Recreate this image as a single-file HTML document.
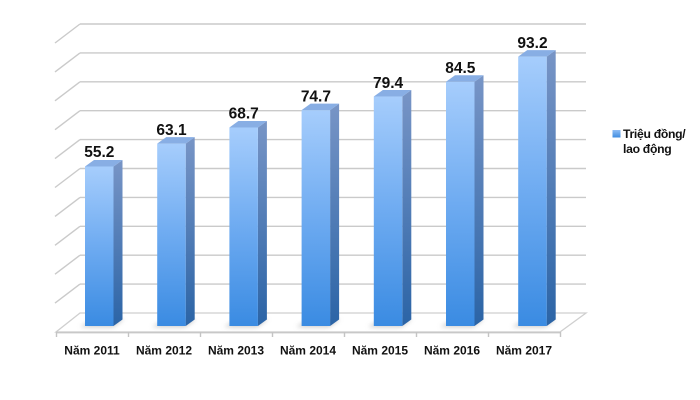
<!DOCTYPE html>
<html>
<head>
<meta charset="utf-8">
<style>
html,body{margin:0;padding:0;background:#fff;}
svg{display:block;}
text{font-family:"Liberation Sans","DejaVu Sans",sans-serif;font-weight:bold;fill:#111;}
</style>
</head>
<body>
<svg width="700" height="400" viewBox="0 0 700 400" xmlns="http://www.w3.org/2000/svg">
<defs>
<linearGradient id="front" x1="0" y1="0" x2="0" y2="1">
<stop offset="0" stop-color="#a6cdfc"/>
<stop offset="0.5" stop-color="#6eabf1"/>
<stop offset="1" stop-color="#3a8be2"/>
</linearGradient>
<linearGradient id="side" x1="0" y1="0" x2="0" y2="1">
<stop offset="0" stop-color="#7895c6"/>
<stop offset="1" stop-color="#2b64a6"/>
</linearGradient>
<linearGradient id="leg" x1="0" y1="0" x2="0" y2="1">
<stop offset="0" stop-color="#8fbdf5"/>
<stop offset="1" stop-color="#3e8ce0"/>
</linearGradient>
<filter id="blur" x="-50%" y="-50%" width="200%" height="200%">
<feGaussianBlur stdDeviation="2.5"/>
</filter>
</defs>

<!-- floor -->
<polygon points="56,332 560,332 586,313 80,313" fill="#fff" stroke="#cfcfcf" stroke-width="1.3"/>
<line x1="56" y1="332.5" x2="560" y2="332.5" stroke="#c8c8c8" stroke-width="1.8"/>

<!-- back wall gridlines -->
<g stroke="#cacaca" stroke-width="1.4" fill="none">
<line x1="80" y1="284.1" x2="586" y2="284.1"/>
<line x1="80" y1="255.2" x2="586" y2="255.2"/>
<line x1="80" y1="226.3" x2="586" y2="226.3"/>
<line x1="80" y1="197.4" x2="586" y2="197.4"/>
<line x1="80" y1="168.5" x2="586" y2="168.5"/>
<line x1="80" y1="139.6" x2="586" y2="139.6"/>
<line x1="80" y1="110.7" x2="586" y2="110.7"/>
<line x1="80" y1="81.8" x2="586" y2="81.8"/>
<line x1="80" y1="52.9" x2="586" y2="52.9"/>
<line x1="80" y1="24" x2="586" y2="24"/>
<!-- left wall diagonals -->
<line x1="55" y1="303.1" x2="80" y2="284.1"/>
<line x1="55" y1="274.2" x2="80" y2="255.2"/>
<line x1="55" y1="245.3" x2="80" y2="226.3"/>
<line x1="55" y1="216.4" x2="80" y2="197.4"/>
<line x1="55" y1="187.5" x2="80" y2="168.5"/>
<line x1="55" y1="158.6" x2="80" y2="139.6"/>
<line x1="55" y1="129.7" x2="80" y2="110.7"/>
<line x1="55" y1="100.8" x2="80" y2="81.8"/>
<line x1="55" y1="71.9" x2="80" y2="52.9"/>
<line x1="55" y1="43" x2="80" y2="24"/>
</g>

<!-- ticks -->
<g stroke="#c4c4c4" stroke-width="1.4">
<line x1="56.5" y1="332" x2="56.5" y2="337"/>
<line x1="128.5" y1="332" x2="128.5" y2="337"/>
<line x1="200.5" y1="332" x2="200.5" y2="337"/>
<line x1="272.5" y1="332" x2="272.5" y2="337"/>
<line x1="344.5" y1="332" x2="344.5" y2="337"/>
<line x1="416.5" y1="332" x2="416.5" y2="337"/>
<line x1="488.5" y1="332" x2="488.5" y2="337"/>
<line x1="560.5" y1="332" x2="560.5" y2="337"/>
</g>

<!-- shadows -->
<g fill="#9a9a9a" opacity="0.55" filter="url(#blur)">
<polygon points="80,327 113,327 124,319 98,317"/>
<polygon points="152,327 185,327 196,319 170,317"/>
<polygon points="224,327 257,327 268,319 242,317"/>
<polygon points="296,327 329,327 340,319 314,317"/>
<polygon points="368,327 401,327 412,319 386,317"/>
<polygon points="440,327 473,327 484,319 458,317"/>
<polygon points="512,327 545,327 556,319 530,317"/>
</g>

<!-- bars -->
<g id="bars"></g>
<script>
(function(){
var vals=[55.2,63.1,68.7,74.7,79.4,84.5,93.2];
var g=document.getElementById('bars');
var ns='http://www.w3.org/2000/svg';
var w=28.5, dx=9, dy=-6.5, base=326, s=2.89;
vals.forEach(function(v,i){
  var x=85+i*72.2, top=base-v*s;
  var side=document.createElementNS(ns,'polygon');
  side.setAttribute('points',(x+w)+','+top+' '+(x+w+dx)+','+(top+dy)+' '+(x+w+dx)+','+(base+dy)+' '+(x+w)+','+base);
  side.setAttribute('fill','url(#side)');
  g.appendChild(side);
  var fr=document.createElementNS(ns,'rect');
  fr.setAttribute('x',x);fr.setAttribute('y',top);fr.setAttribute('width',w);fr.setAttribute('height',base-top);
  fr.setAttribute('fill','url(#front)');
  g.appendChild(fr);
  var tp=document.createElementNS(ns,'polygon');
  tp.setAttribute('points',x+','+top+' '+(x+w)+','+top+' '+(x+w+dx)+','+(top+dy)+' '+(x+dx)+','+(top+dy));
  tp.setAttribute('fill','#88aee4');
  g.appendChild(tp);
});
})();
</script>

<!-- value labels -->
<g font-size="15.5" text-anchor="middle">
<text x="99.3" y="157">55.2</text>
<text x="171.5" y="135">63.1</text>
<text x="243.7" y="118.5">68.7</text>
<text x="315.9" y="101.5">74.7</text>
<text x="388.1" y="88">79.4</text>
<text x="460.3" y="73">84.5</text>
<text x="532.5" y="48">93.2</text>
</g>

<!-- category labels -->
<g font-size="12" text-anchor="middle">
<text x="92" y="354.5">Năm 2011</text>
<text x="164" y="354.5">Năm 2012</text>
<text x="236" y="354.5">Năm 2013</text>
<text x="308" y="354.5">Năm 2014</text>
<text x="380" y="354.5">Năm 2015</text>
<text x="452" y="354.5">Năm 2016</text>
<text x="524" y="354.5">Năm 2017</text>
</g>

<!-- legend -->
<rect x="612.5" y="130" width="8" height="7.5" fill="url(#leg)"/>
<g font-size="12.2" letter-spacing="-0.3">
<text x="623" y="138">Triệu đồng/</text>
<text x="623" y="153">lao động</text>
</g>
</svg>
</body>
</html>
